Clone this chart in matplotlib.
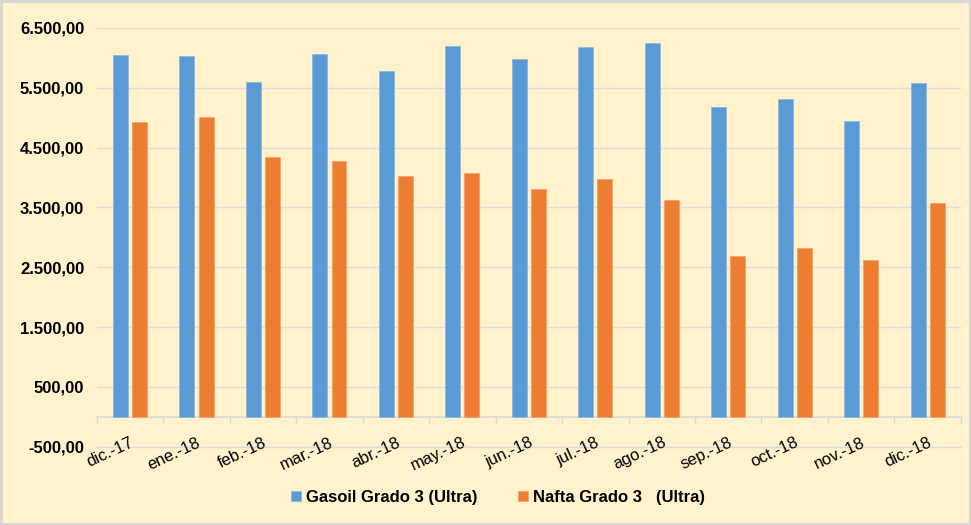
import matplotlib
matplotlib.use('Agg')
import matplotlib.pyplot as plt
import numpy as np
from matplotlib.ticker import FuncFormatter

# datos
meses = ['dic.-17', 'ene.-18', 'feb.-18', 'mar.-18', 'abr.-18', 'may.-18', 'jun.-18',
         'jul.-18', 'ago.-18', 'sep.-18', 'oct.-18', 'nov.-18', 'dic.-18']
gasoil = [6052, 6030, 5594, 6063, 5778, 6197, 5980, 6180, 6248, 5170, 5309, 4935, 5578]
nafta = [4919, 5003, 4337, 4270, 4019, 4069, 3801, 3968, 3616, 2690, 2824, 2623, 3578]
y_ticks = [-500, 500, 1500, 2500, 3500, 4500, 5500, 6500]

plt.rcParams['font.family'] = ['Liberation Sans', 'DejaVu Sans']

fondo = '#FFF2CC'
fig = plt.figure(figsize=(9.71, 5.25), dpi=100, facecolor=fondo,
                 edgecolor='#D6D6D6', linewidth=2.5)
ax = fig.add_axes([0.0996, 0.149, 0.89, 0.798])
ax.set_facecolor(fondo)

# primero los ejes (set_position resetea los ticks)
for s in ['top', 'right', 'left']:
    ax.spines[s].set_visible(False)
ax.spines['bottom'].set_position(('data', 0))
ax.spines['bottom'].set_color('#D9D9D9')
ax.spines['bottom'].set_linewidth(1.2)

x = np.arange(len(meses))
w = 0.225
ax.bar(x - 0.145, gasoil, w, color='#5B9BD5', edgecolor='#8DB8E3', linewidth=0.6,
       label='Gasoil Grado 3 (Ultra)', zorder=3)
ax.bar(x + 0.145, nafta, w, color='#ED7D31', edgecolor='#F4A36E', linewidth=0.6,
       label='Nafta Grado 3   (Ultra)', zorder=3)

ax.set_xlim(-0.5, len(meses) - 0.5)
ax.set_ylim(-500, 6500)
ax.set_yticks(y_ticks)


def fmt(v, pos):
    s = f'{v:,.2f}'
    return s.replace(',', 'X').replace('.', ',').replace('X', '.')


ax.yaxis.set_major_formatter(FuncFormatter(fmt))
ax.tick_params(axis='y', length=0, pad=9, labelsize=12)
for lbl in ax.get_yticklabels():
    lbl.set_fontweight('bold')
ax.grid(axis='y', color='#DCDCDC', linewidth=1, zorder=0)
# linea de -500 en el borde inferior
ax.axhline(y_ticks[0], color='#DCDCDC', linewidth=1, zorder=0, clip_on=False)

ax.set_xticks(x)
ax.tick_params(axis='x', length=0, pad=13)
ax.set_xticklabels(meses, rotation=25, ha='right', rotation_mode='anchor', fontsize=12)
ax.set_xticks(np.arange(-0.5, len(meses)), minor=True)
ax.tick_params(axis='x', which='minor', length=5, color='#D9D9D9', width=1)

leg = fig.legend(loc='center', bbox_to_anchor=(0.513, 0.053), ncol=2, frameon=False,
                 prop={'weight': 'bold', 'size': 12}, handlelength=0.6, handleheight=0.6,
                 columnspacing=2.4, handletextpad=0.3)

fig.savefig('out.png', dpi=100, facecolor=fondo, edgecolor='#D6D6D6')
